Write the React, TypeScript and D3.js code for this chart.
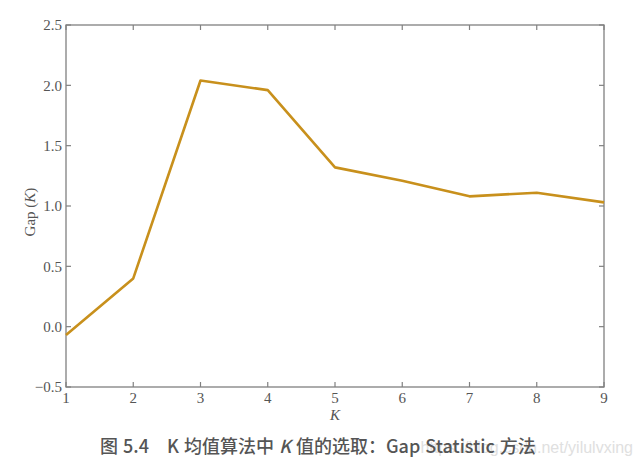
import React from "react";
import * as d3 from "d3";

const kValues = [1, 2, 3, 4, 5, 6, 7, 8, 9];
const gapValues = [-0.07, 0.4, 2.04, 1.96, 1.32, 1.21, 1.08, 1.11, 1.03];
const yTicks = [-0.5, 0.0, 0.5, 1.0, 1.5, 2.0, 2.5];
const xTicks = [1, 2, 3, 4, 5, 6, 7, 8, 9];

const W = 643, H = 469;
const m = { left: 66, right: 604, top: 25, bottom: 387 };

export default function App() {
  const x = d3.scaleLinear().domain([1, 9]).range([m.left, m.right]);
  const y = d3.scaleLinear().domain([-0.5, 2.5]).range([m.bottom, m.top]);
  const line = d3.line<number>().x((_, i) => x(kValues[i])).y((d) => y(d));
  const axisColor = "#808080";
  const textColor = "#555";
  const serif = "'Liberation Serif', 'DejaVu Serif', serif";
  const tl = 5;
  return (
    <svg width={W} height={H} style={{ position: "absolute", left: 0, top: 0, background: "#fff" }}>
      <rect x={m.left} y={m.top} width={m.right - m.left} height={m.bottom - m.top} fill="none" stroke={axisColor} strokeWidth={1.3} />
      {yTicks.map((t) => (
        <g key={"y" + t}>
          <line x1={m.left} x2={m.left + tl} y1={y(t)} y2={y(t)} stroke={axisColor} strokeWidth={1.2} />
          <line x1={m.right} x2={m.right - tl} y1={y(t)} y2={y(t)} stroke={axisColor} strokeWidth={1.2} />
          <text x={m.left - 4} y={y(t)} dy="0.35em" textAnchor="end" fontFamily={serif} fontSize={15} fill={textColor}>
            {t < 0 ? "\u2212" + Math.abs(t).toFixed(1) : t.toFixed(1)}
          </text>
        </g>
      ))}
      {xTicks.map((t) => (
        <g key={"x" + t}>
          <line x1={x(t)} x2={x(t)} y1={m.bottom} y2={m.bottom - tl} stroke={axisColor} strokeWidth={1.2} />
          <line x1={x(t)} x2={x(t)} y1={m.top} y2={m.top + tl} stroke={axisColor} strokeWidth={1.2} />
          <text x={x(t)} y={403} textAnchor="middle" fontFamily={serif} fontSize={15} fill={textColor}>
            {t}
          </text>
        </g>
      ))}
      <path d={line(gapValues) || ""} fill="none" stroke="#c8901c" strokeWidth={2.6} strokeLinejoin="round" />
      <text x={x(5)} y={420} textAnchor="middle" fontFamily={serif} fontSize={15} fontStyle="italic" fill={textColor}>K</text>
      <text transform={`translate(35, 212) rotate(-90)`} textAnchor="middle" fontFamily={serif} fontSize={15} fill={textColor}>
        Gap (<tspan fontStyle="italic">K</tspan>)
      </text>
      <text x={633} y={453} textAnchor="end" fontFamily="'Liberation Sans', Arial, sans-serif" fontSize={16} fill="#e0e0e0">https://blog.csdn.net/yilulvxing</text>
      <text x={100} y={453} fontFamily="'Noto Sans CJK SC', 'Noto Sans', sans-serif" fontSize={18} fontWeight={500} fill="#555" wordSpacing={1}>
        图 5.4{"\u2003"}K 均值算法中 <tspan fontStyle="italic">K</tspan> 值的选取：Gap Statistic 方法
      </text>
    </svg>
  );
}
